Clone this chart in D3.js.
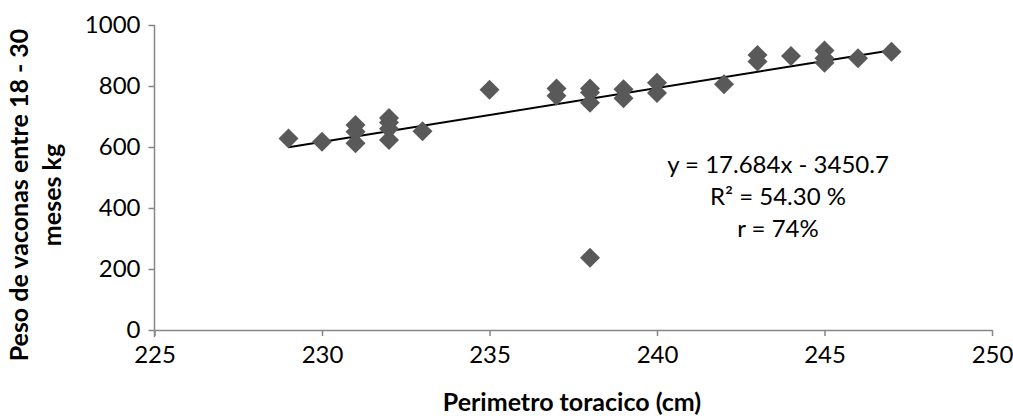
<!DOCTYPE html>
<html>
<head>
<meta charset="utf-8">
<script src="https://cdn.jsdelivr.net/npm/d3@7"></script>
<style>
  body { margin: 0; background: #fff; }
  svg text { font-family: Lato, "Open Sans", sans-serif; fill: #000; }
  .axis path, .axis line { stroke: #868686; stroke-width: 1.5; }
</style>
</head>
<body>
<div id="chart"></div>
<script>
// perimetro toracico (cm) and peso (kg)
const perimetro = [229, 230, 231, 231, 231, 232, 232, 232, 232, 233, 235, 237, 237, 238, 238, 238, 238,
  239, 239, 240, 240, 242, 243, 243, 244, 245, 245, 245, 246, 247]
const peso = [628, 617, 672, 650, 612, 695, 680, 660, 623, 652, 788, 792, 768, 792, 779, 745, 237,
  789, 760, 811, 777, 806, 902, 880, 898, 916, 891, 876, 891, 912]

const xTicks = [225, 230, 235, 240, 245, 250]
const yTicks = [0, 200, 400, 600, 800, 1000]

const trendSlope = 17.684
const trendIntercept = -3450.7
const trendLabels = ["y = 17.684x - 3450.7", "R² = 54.30 %", "r = 74%"]

const width = 1013, height = 416

const svg = d3.select("#chart").append("svg")
  .attr("width", width)
  .attr("height", height)

const x = d3.scaleLinear().domain([225, 250]).range([154.5, 992])
const y = d3.scaleLinear().domain([0, 1000]).range([330, 25])

// axes
const yAxis = svg.append("g")
  .attr("class", "axis")
  .attr("transform", `translate(${x(225)},0)`)
  .call(d3.axisLeft(y).tickValues(yTicks).tickFormat(d3.format("d"))
    .tickSize(6).tickSizeOuter(0).tickPadding(8))
yAxis.select(".domain").attr("d", `M0,${y(1000)}V${y(0) + 7}`)

const xAxis = svg.append("g")
  .attr("class", "axis")
  .attr("transform", `translate(0,${y(0)})`)
  .call(d3.axisBottom(x).tickValues(xTicks).tickFormat(d3.format("d"))
    .tickSize(6).tickSizeOuter(0).tickPadding(10))

svg.selectAll(".axis text")
  .style("font-size", "24px")
  .attr("fill", "#000")

// trendline
const xr = d3.extent(perimetro)
svg.append("line")
  .attr("x1", x(xr[0]))
  .attr("y1", y(trendSlope * xr[0] + trendIntercept))
  .attr("x2", x(xr[1]))
  .attr("y2", y(trendSlope * xr[1] + trendIntercept))
  .style("stroke", "#000")
  .style("stroke-width", 2)

// points (diamonds)
const diamond = d3.symbol().type(d3.symbolSquare).size(200)
svg.append("g")
  .selectAll("path")
  .data(perimetro.map((p, i) => ({ p, w: peso[i] })))
  .join("path")
  .attr("d", diamond)
  .attr("transform", d => `translate(${x(d.p)},${y(d.w)}) rotate(45)`)
  .style("fill", "#595959")

// equation labels
svg.append("g")
  .selectAll("text")
  .data(trendLabels)
  .join("text")
  .attr("x", 778)
  .attr("y", (d, i) => 165 + i * 32)
  .attr("dy", "0.35em")
  .attr("text-anchor", "middle")
  .style("font-size", "24px")
  .text(d => d)

// axis titles
svg.append("text")
  .attr("x", 572)
  .attr("y", 402)
  .attr("dy", "0.35em")
  .attr("text-anchor", "middle")
  .style("font-size", "25px")
  .style("font-weight", "bold")
  .text("Perimetro toracico (cm)")

const yTitle = svg.append("text")
  .attr("transform", "translate(0,195) rotate(-90)")
  .attr("text-anchor", "middle")
  .style("font-size", "25px")
  .style("font-weight", "bold")
yTitle.append("tspan").attr("x", 0).attr("y", 28).text("Peso de vaconas entre 18 - 30")
yTitle.append("tspan").attr("x", 0).attr("y", 61).text("meses kg")
</script>
</body>
</html>
